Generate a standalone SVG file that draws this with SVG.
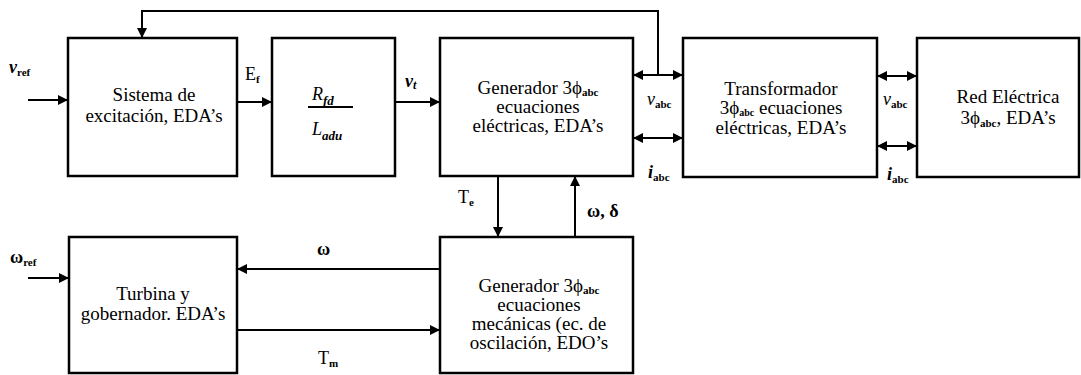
<svg xmlns="http://www.w3.org/2000/svg" width="1081" height="375" viewBox="0 0 1081 375">
<style>
.box{fill:#fff;stroke:#000;stroke-width:2.5}
.ln{fill:none;stroke:#000;stroke-width:2}
text{font-family:'Liberation Serif','Times New Roman',serif;fill:#000}
.t{font-size:19px;text-anchor:middle}
.lb{font-size:18px}
.sub{font-size:11px;font-weight:bold}
.it{font-style:italic}
</style>
<defs>
<marker id="ah" viewBox="0 0 10 10" refX="10" refY="5" markerWidth="11" markerHeight="10" markerUnits="userSpaceOnUse" orient="auto-start-reverse">
<path d="M0,0 L10,5 L0,10 z" fill="#000"/>
</marker>
</defs>
<rect width="1081" height="375" fill="#fff"/>

<g id="connectors">
<line class="ln" x1="28" y1="100" x2="68" y2="100" marker-end="url(#ah)"/>
<line class="ln" x1="237" y1="102" x2="272" y2="102" marker-end="url(#ah)"/>
<line class="ln" x1="395" y1="102" x2="440" y2="102" marker-end="url(#ah)"/>
<polyline class="ln" points="658,75 658,11 142,11 142,38" marker-end="url(#ah)"/>
<line class="ln" x1="633" y1="75" x2="683" y2="75" marker-start="url(#ah)" marker-end="url(#ah)"/>
<line class="ln" x1="633" y1="138" x2="683" y2="138" marker-start="url(#ah)" marker-end="url(#ah)"/>
<line class="ln" x1="877" y1="76" x2="917" y2="76" marker-start="url(#ah)" marker-end="url(#ah)"/>
<line class="ln" x1="877" y1="146" x2="917" y2="146" marker-start="url(#ah)" marker-end="url(#ah)"/>
<line class="ln" x1="498" y1="176" x2="498" y2="237" marker-end="url(#ah)"/>
<line class="ln" x1="575" y1="237" x2="575" y2="176" marker-end="url(#ah)"/>
<line class="ln" x1="440" y1="269" x2="237" y2="269" marker-end="url(#ah)"/>
<line class="ln" x1="237" y1="330" x2="440" y2="330" marker-end="url(#ah)"/>
<line class="ln" x1="28" y1="278" x2="69" y2="278" marker-end="url(#ah)"/>

<text class="lb" x="9" y="73"><tspan class="it" font-weight="bold">v</tspan><tspan class="sub" dy="3">ref</tspan></text>
<text class="lb" x="245" y="80">E<tspan class="sub" dy="3">f</tspan></text>
<text class="lb" x="405" y="87"><tspan class="it" font-weight="bold">v</tspan><tspan class="it" font-size="12" font-weight="bold" dy="2">t</tspan></text>
<text class="lb" x="647" y="105"><tspan class="it">v</tspan><tspan class="sub" dy="3">abc</tspan></text>
<text class="lb" x="648" y="178"><tspan class="it" font-weight="bold">i</tspan><tspan class="sub" dy="3">abc</tspan></text>
<text class="lb" x="883" y="105"><tspan class="it">v</tspan><tspan class="sub" dy="3">abc</tspan></text>
<text class="lb" x="887" y="180"><tspan class="it" font-weight="bold">i</tspan><tspan class="sub" dy="3">abc</tspan></text>
<text class="lb" x="458" y="203">T<tspan class="sub" dy="3">e</tspan></text>
<text class="lb" x="587" y="217" font-weight="bold">ω, δ</text>
<text class="lb" x="317" y="255" font-weight="bold">ω</text>
<text class="lb" x="318" y="364">T<tspan class="sub" dy="3">m</tspan></text>
<text class="lb" x="10" y="263" font-weight="bold">ω<tspan class="sub" dy="3">ref</tspan></text>
</g>

<g id="excitacion">
<rect class="box" x="68" y="38" width="169" height="138"/>
<text class="t" x="154" y="101">Sistema de</text>
<text class="t" x="154" y="122">excitación, EDA’s</text>
</g>

<g id="ganancia">
<rect class="box" x="272" y="38" width="123" height="138"/>
<text class="lb it" x="312" y="100" font-size="21">R<tspan font-size="13" font-weight="bold" dy="5">fd</tspan></text>
<line class="ln" x1="308" y1="107" x2="353" y2="107"/>
<text class="lb it" x="312" y="135" font-size="21">L<tspan font-size="13" font-weight="bold" dy="5">adu</tspan></text>
</g>

<g id="gen-electrico">
<rect class="box" x="440" y="38" width="193" height="138"/>
<text class="t" x="538" y="94">Generador 3ϕ<tspan font-size="11" font-weight="bold" dy="2">abc</tspan></text>
<text class="t" x="538" y="113">ecuaciones</text>
<text class="t" x="538" y="132">eléctricas, EDA’s</text>
</g>

<g id="transformador">
<rect class="box" x="683" y="38" width="194" height="139"/>
<text class="t" x="781" y="95">Transformador</text>
<text class="t" x="781" y="114">3ϕ<tspan font-size="10" font-weight="bold" dy="2">abc</tspan><tspan dy="-2"> ecuaciones</tspan></text>
<text class="t" x="781" y="134">eléctricas, EDA’s</text>
</g>

<g id="red">
<rect class="box" x="917" y="38" width="162" height="139"/>
<text class="t" x="1008" y="103">Red Eléctrica</text>
<text class="t" x="1008" y="124">3ϕ<tspan font-size="11" font-weight="bold" dy="3">abc</tspan><tspan dy="-3">, EDA’s</tspan></text>
</g>

<g id="turbina">
<rect class="box" x="69" y="237" width="168" height="136"/>
<text class="t" x="153" y="300">Turbina y</text>
<text class="t" x="153" y="320">gobernador. EDA’s</text>
</g>

<g id="gen-mecanico">
<rect class="box" x="440" y="237" width="193" height="136"/>
<text class="t" x="539" y="292">Generador 3ϕ<tspan font-size="11" font-weight="bold" dy="2">abc</tspan></text>
<text class="t" x="539" y="311">ecuaciones</text>
<text class="t" x="539" y="330">mecánicas (ec. de</text>
<text class="t" x="539" y="349">oscilación, EDO’s</text>
</g>
</svg>
